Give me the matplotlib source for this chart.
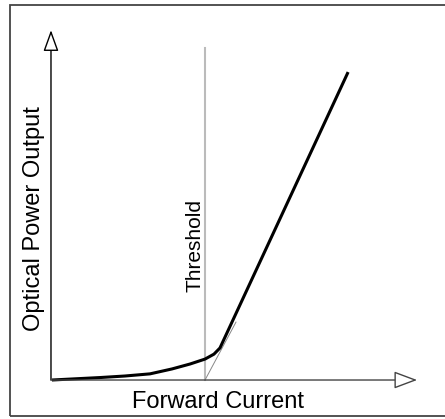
import matplotlib
matplotlib.use("Agg")
import matplotlib.pyplot as plt
from matplotlib.patches import Rectangle

plt.rcParams['font.family'] = ['Liberation Sans', 'DejaVu Sans']

# forward current (threshold = 1) and optical power output
current = [0.006, 0.318, 0.48, 0.643, 0.786, 0.903, 1.0, 1.058, 1.097, 1.929]
power = [0.0, 0.08, 0.13, 0.20, 0.36, 0.52, 0.68, 0.84, 1.04, 10.0]

threshold = 1.0
threshold_top = 10.78
# tangent of the lasing part, drawn from the threshold point
tangent_x = [1.0, 1.201]
tangent_y = [0.0, 1.88]

x_arrow_end = 2.377
y_arrow_end = 11.36

fig = plt.figure(figsize=(4.45, 4.19), dpi=100)
ax = fig.add_axes([0, 0, 1, 1])
ax.set_xlim(-0.331, 2.558)
ax.set_ylim(-1.266, 12.34)
ax.axis('off')

# frame round the figure (no right side)
fig.patches.append(Rectangle((10 / 445, 3 / 419), 1.2, 411 / 419, transform=fig.transFigure,
                             fill=False, ec='#444444', lw=1.3, clip_on=False))

# axes with open arrow heads
ax.annotate('', xy=(0, y_arrow_end), xytext=(0, 0),
            arrowprops=dict(arrowstyle='-|>,head_length=13,head_width=4.7', mutation_scale=1,
                            fc='white', ec='black', lw=1, shrinkA=0, shrinkB=0))
ax.annotate('', xy=(x_arrow_end, 0), xytext=(0, 0),
            arrowprops=dict(arrowstyle='-|>,head_length=14.4,head_width=5.4', mutation_scale=1,
                            fc='white', ec='#444444', lw=1, shrinkA=0, shrinkB=0))

ax.plot([threshold, threshold], [0, threshold_top], color='#bbbbbb', lw=1.5)
ax.plot(tangent_x, tangent_y, color='#888888', lw=0.7)
ax.plot(current, power, color='black', lw=2.2, solid_capstyle='butt')

ax.text(1.084, -0.714, 'Forward Current', ha='center', va='center', fontsize=17)
ax.text(-0.110, 5.23, 'Optical Power Output', ha='center', va='center', fontsize=17, rotation=90)
ax.text(0.935, 4.38, 'Threshold', ha='center', va='center', fontsize=15, rotation=90)

fig.savefig('out.png', dpi=100)
